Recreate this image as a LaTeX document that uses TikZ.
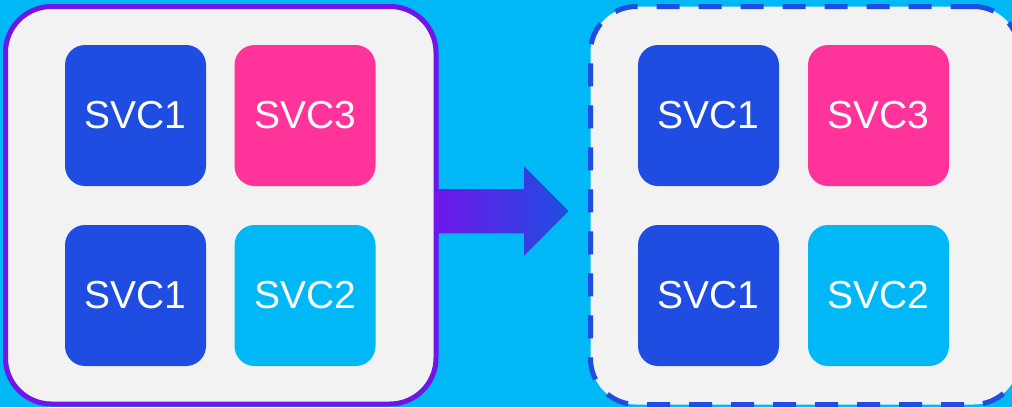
\documentclass[tikz,border=0pt]{standalone}
\usepackage{fontspec}
\setmainfont{Liberation Sans}
\usetikzlibrary{calc}

\definecolor{bgcyan}{HTML}{00B8F5}
\definecolor{boxgray}{HTML}{F2F2F2}
\definecolor{svcblue}{HTML}{1F4DE2}
\definecolor{svcpink}{HTML}{FF3399}
\definecolor{hostpurple}{HTML}{7016E8}

\tikzset{
    svcbox/.style={rounded corners=20pt, minimum size=141pt, inner sep=0pt,
        text=white, font=\fontsize{39}{47}\selectfont},
    hostbox/.style={fill=boxgray, line width=5pt, rounded corners=46pt,
        inner sep=0pt},
}

\begin{document}
\begin{tikzpicture}[x=1pt, y=-1pt]
    \fill[bgcyan] (0, 0) rectangle (1012, 407);
    \useasboundingbox (0, 0) rectangle (1012, 407);

    % Migration arrow
    \coordinate (tail) at (434, 211);
    \coordinate (tip) at (568, 211);
    \fill[left color=hostpurple, right color=svcblue]
        ($(tail) + (0, -22)$) -- ($(tip) + (-44, -22)$)
        -- ($(tip) + (-44, -44.5)$) -- (tip)
        -- ($(tip) + (-44, 44.5)$) -- ($(tip) + (-44, 22)$)
        -- ($(tail) + (0, 22)$) -- cycle;

    \begin{scope}
        % Left host
        \node[hostbox, draw=hostpurple, minimum width=430.5pt,
            minimum height=397.5pt] (oldhost) at (220.75, 205.25) {};
        \node[svcbox, fill=svcblue] (oldA) at (135.5, 115.5) {SVC1};
        \node[svcbox, fill=svcpink] (oldB) at (305, 115.5) {SVC3};
        \node[svcbox, fill=svcblue] (oldC) at (135.5, 295.5) {SVC1};
        \node[svcbox, fill=bgcyan] (oldD) at (305, 295.5) {SVC2};

        % Right host (runs past the right edge)
        \node[hostbox, draw=svcblue, dash pattern=on 23pt off 19pt,
            minimum width=429pt, minimum height=398pt]
            (newhost) at (805, 205.5) {};
        \node[svcbox, fill=svcblue] (newA) at (708.5, 115.5) {SVC1};
        \node[svcbox, fill=svcpink] (newB) at (878.5, 115.5) {SVC3};
        \node[svcbox, fill=svcblue] (newC) at (708.5, 295.5) {SVC1};
        \node[svcbox, fill=bgcyan] (newD) at (878.5, 295.5) {SVC2};
    \end{scope}
\end{tikzpicture}
\end{document}
